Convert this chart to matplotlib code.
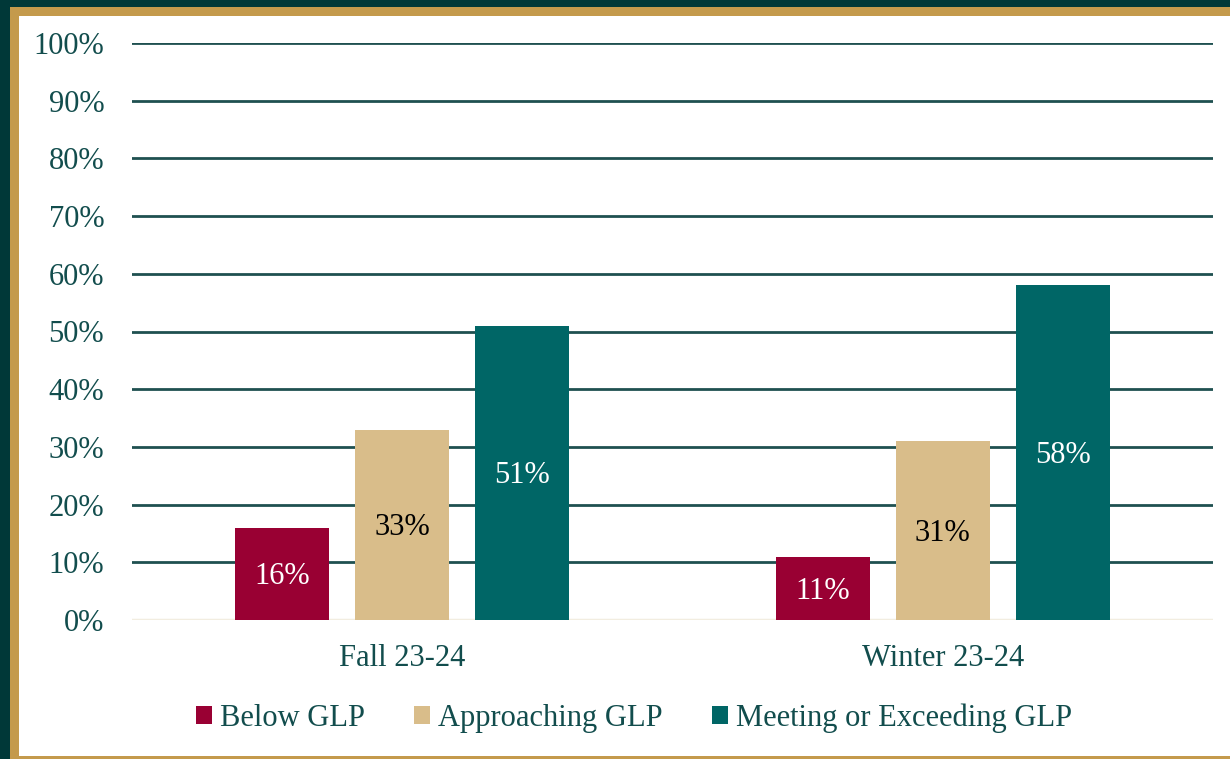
import matplotlib
matplotlib.use("Agg")
import matplotlib.pyplot as plt
from matplotlib.patches import Rectangle, Patch
import numpy as np

categories = ["Fall 23-24", "Winter 23-24"]
series_names = ["Below GLP", "Approaching GLP", "Meeting or Exceeding GLP"]
below = [16, 11]
approaching = [33, 31]
meeting = [51, 58]
yticks = [0, 10, 20, 30, 40, 50, 60, 70, 80, 90, 100]

colors = ["#990033", "#d9bd8a", "#006666"]
label_colors = ["white", "black", "white"]
text_color = "#124d4d"

plt.rcParams['font.family'] = ['Liberation Serif', 'DejaVu Serif']
FS = 22

W, H = 1230, 759
fig = plt.figure(figsize=(W / 100, H / 100), dpi=100)
fig.patch.set_facecolor("#003838")
# gold frame and white panel
fig.add_artist(Rectangle((10 / W, 0), 1, 1 - 7 / H, transform=fig.transFigure,
                         facecolor="#c49a4c", edgecolor="none", zorder=0))
fig.add_artist(Rectangle((19 / W, 3 / H), 1, 1 - 19 / H, transform=fig.transFigure,
                         facecolor="white", edgecolor="none", zorder=0))

ax = fig.add_axes([132 / W, 1 - 620 / H, (1213 - 132) / W, (620 - 43) / H])
ax.set_facecolor("none")

x = np.arange(len(categories))
bw = 0.174
step = 0.222
data = [below, approaching, meeting]
for i, (vals, c, lc) in enumerate(zip(data, colors, label_colors)):
    pos = x + (i - 1) * step
    ax.bar(pos, vals, width=bw, color=c, zorder=3, label=series_names[i])
    for xp, v in zip(pos, vals):
        ax.annotate(f"{v}%", (xp, v / 2), xytext=(0, -7.6), textcoords="offset points",
                    ha="center", va="baseline", color=lc, fontsize=FS, zorder=4)

ax.set_xlim(-0.5, 1.5)
ax.set_ylim(0, 100)
ax.set_yticks(yticks)
ax.set_yticklabels([f"{t}%" for t in yticks], fontsize=FS, color=text_color)
ax.set_xticks(x)
ax.set_xticklabels(categories, fontsize=FS, color=text_color)
ax.tick_params(axis="both", length=0)
ax.tick_params(axis="y", pad=20)
ax.tick_params(axis="x", pad=17)
for t in yticks[1:]:
    ax.axhline(t, color="#1f5050", linewidth=2, zorder=1)
ax.axhline(0, color="#f2ede0", linewidth=2.5, zorder=2)
for s in ax.spines.values():
    s.set_visible(False)

handles = [Patch(facecolor=c, edgecolor="none") for c in colors]
fig.legend(handles, series_names, loc="center", bbox_to_anchor=(0.5155, 1 - 718 / H),
           ncol=3, frameon=False, fontsize=FS, labelcolor=text_color,
           handlelength=0.52, handleheight=0.52, handletextpad=0.25, columnspacing=1.63)

fig.savefig("out.png", dpi=100, facecolor=fig.get_facecolor())
